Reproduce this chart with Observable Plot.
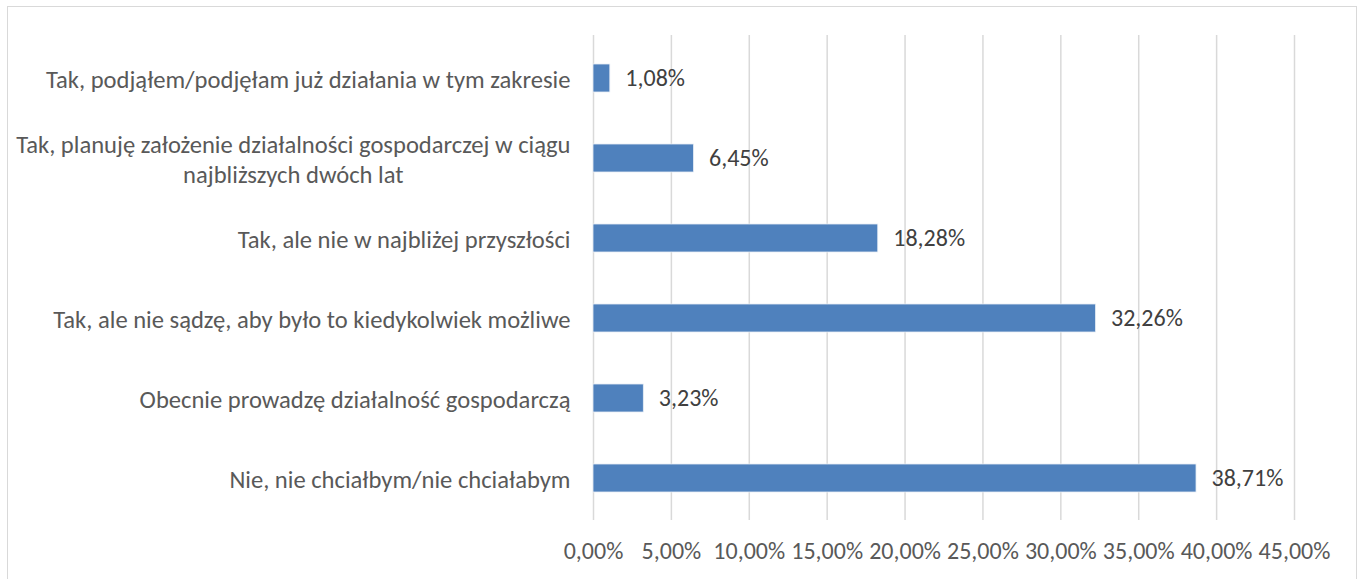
<!DOCTYPE html>
<html>
<head>
<meta charset="utf-8">
<script src="https://cdn.jsdelivr.net/npm/d3@7"></script>
<script src="https://cdn.jsdelivr.net/npm/@observablehq/plot@0.6"></script>
<style>
  html, body { margin: 0; padding: 0; background: #fff; }
  #wrap { position: relative; width: 1365px; height: 579px; overflow: hidden; }
  #frame { position: absolute; left: 7px; top: 6px; width: 1350px; height: 620px; border: 1.5px solid #d9d9d9; box-sizing: border-box; }
  #chart { position: absolute; left: 0; top: 0; }
</style>
</head>
<body>
<div id="wrap"><div id="frame"></div><div id="chart"></div></div>
<script>
const categories = [
  "Tak, podjąłem/podjęłam już działania w tym zakresie",
  "Tak, planuję założenie działalności gospodarczej w ciągu\nnajbliższych dwóch lat",
  "Tak, ale nie w najbliżej przyszłości",
  "Tak, ale nie sądzę, aby było to kiedykolwiek możliwe",
  "Obecnie prowadzę działalność gospodarczą",
  "Nie, nie chciałbym/nie chciałabym"
];
const values = [1.08, 6.45, 18.28, 32.26, 3.23, 38.71];
const xTicks = [0, 5, 10, 15, 20, 25, 30, 35, 40, 45];

const data = categories.map((c, i) => ({category: c, value: values[i]}));
const pct = v => v.toFixed(2).replace(".", ",") + "%";
const FONT = "Carlito, Calibri, Lato, 'Open Sans', sans-serif";
const TEXT = "#595959";
const LABEL = "#404040";

const chart = Plot.plot({
  width: 1365,
  height: 579,
  marginLeft: 593,
  marginRight: 71,
  marginTop: 35,
  marginBottom: 59,
  style: {fontFamily: FONT, fontSize: "24px", color: TEXT, background: "transparent"},
  x: {domain: [0, 45], ticks: xTicks, label: null},
  y: {domain: categories, padding: 0, label: null},
  marks: [
    Plot.ruleX(xTicks, {stroke: "#d9d9d9", strokeWidth: 1.5}),
    Plot.barX(data, {y: "category", x: "value", fill: "#4f81bd", stroke: "#e8eef6", strokeWidth: 0.8, insetTop: 26, insetBottom: 26}),
    Plot.text(data, {y: "category", x: "value", text: d => pct(d.value), textAnchor: "start", dx: 15, fill: LABEL, fontSize: 24}),
    Plot.axisX({ticks: xTicks, tickSize: 0, tickPadding: 21, tickFormat: pct, fontSize: 24, fill: TEXT}),
    Plot.axisY({tickSize: 0, tickPadding: 23, fontSize: 24.6, fill: TEXT, lineHeight: 1.2})
  ]
});
document.getElementById("chart").appendChild(chart);

// center multi-line y tick labels (as in the original)
chart.querySelectorAll("text").forEach(t => {
  const spans = t.querySelectorAll("tspan");
  if (spans.length > 1) {
    const w = Math.max(...Array.from(spans).map(s => s.getComputedTextLength()));
    t.setAttribute("text-anchor", "middle");
    const tr = t.getAttribute("transform") || "";
    t.setAttribute("transform", tr + ` translate(${-w / 2},0)`);
  }
});
</script>
</body>
</html>
